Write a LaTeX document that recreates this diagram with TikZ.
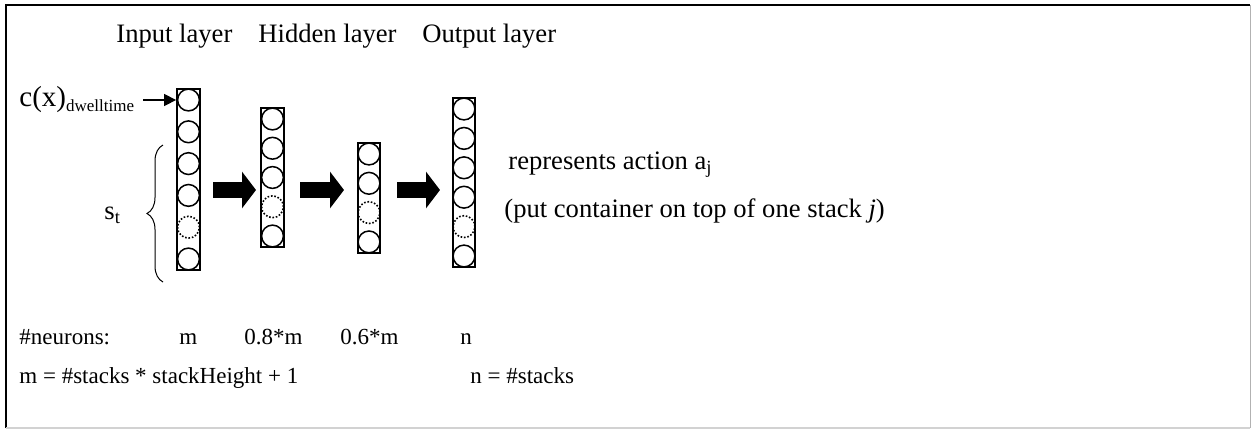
\documentclass[tikz,border=0pt]{standalone}
\usepackage{fontspec}
\setmainfont{Liberation Serif}
\usetikzlibrary{arrows.meta,decorations.pathreplacing}
\begin{document}
\begin{tikzpicture}[x=0.5pt,y=-0.5pt,
  lbl/.style={anchor=base west, inner sep=0pt, font=\fontsize{13.3}{16}\selectfont},
  low/.style={anchor=base west, inner sep=0pt, font=\fontsize{11.5}{14}\selectfont},
  layerbox/.style={draw, line width=0.9pt, inner sep=0pt, rectangle},
  neuron/.style={circle, draw, line width=0.75pt, minimum size=10.9pt, inner sep=0pt},
  dotneuron/.style={neuron, line width=0.8pt, dash pattern=on 0.8pt off 0.9pt},
  blockarrow/.style={line width=8pt, -{Triangle[length=7pt,width=18pt]}},
  feed/.style={line width=0.65pt, -{Triangle[length=6pt,width=6pt]}},
  bracestyle/.style={line width=0.5pt, decorate, decoration={brace, amplitude=8pt}}
]
\useasboundingbox (0,0) rectangle (1252,430);
% frame
\draw[line width=1pt] (6,428) -- (6,5) -- (1250,5);
\draw[gray!60, line width=0.5pt] (1250,5) -- (1250,428);
\draw[gray!35, line width=0.6pt] (1250,428) -- (6,428);

% layer boxes
\node[layerbox, minimum width=11.5pt, minimum height=90.5pt] (inbox) at (188.5,179.5) {};
\node[layerbox, minimum width=11.5pt, minimum height=69.5pt] (habox) at (272.5,177.5) {};
\node[layerbox, minimum width=11pt, minimum height=55pt] (hbbox) at (369,198) {};
\node[layerbox, minimum width=11pt, minimum height=84.5pt] (outbox) at (464,182.5) {};

% neurons
\foreach \i/\st in {1/neuron,2/neuron,3/neuron,4/neuron,5/dotneuron,6/neuron}
  \node[\st] (in\i) at (188.5,{100+31.8*(\i-1)}) {};
\foreach \i/\st in {1/neuron,2/neuron,3/neuron,4/dotneuron,5/neuron}
  \node[\st] (ha\i) at (272.5,{119+29.25*(\i-1)}) {};
\foreach \i/\st in {1/neuron,2/neuron,3/dotneuron,4/neuron}
  \node[\st] (hb\i) at (369,{154+29.3*(\i-1)}) {};
\foreach \i/\st in {1/neuron,2/neuron,3/neuron,4/neuron,5/dotneuron,6/neuron}
  \node[\st] (out\i) at (464,{109+29.4*(\i-1)}) {};

% block arrows
\coordinate (a1s) at (213,190);
\coordinate (a1e) at (256,190);
\coordinate (a2s) at (300,190);
\coordinate (a2e) at (344,190);
\coordinate (a3s) at (397,190);
\coordinate (a3e) at (440,190);
\draw[blockarrow] (a1s) -- (a1e);
\draw[blockarrow] (a2s) -- (a2e);
\draw[blockarrow] (a3s) -- (a3e);

% headings
\node[lbl] (inlab) at (116,42) {Input layer};
\node[lbl] (hidlab) at (258,42) {Hidden layer};
\node[lbl] (outlab) at (422,42) {Output layer};

% c(x) input
\node[anchor=base west, inner sep=0pt] (cx) at (19,106)
  {\fontsize{14.5}{17}\selectfont c(x)\raisebox{-2.5pt}{\fontsize{8.5}{10}\selectfont dwelltime}};
\coordinate (cxs) at (143,100);
\draw[feed] (cxs) -- (inbox.west |- in1);

% s_t with brace
\node[lbl] (st) at (104,219) {s\textsubscript{t}};
\coordinate (brb) at (163,282);
\coordinate (brt) at (163,145);
\draw[bracestyle] (brb) -- (brt);

% output description
\node[lbl] (act) at (508,169) {represents action a\textsubscript{j}};
\node[lbl] (put) at (504,217) {(put container on top of one stack \textit{j})};

% bottom rows
\node[low] (neu) at (19,344) {\#neurons:};
\node[low] (nm) at (179,344) {m};
\node[low] (n08) at (244,344) {0.8*m};
\node[low] (n06) at (340,344) {0.6*m};
\node[low] (nn) at (460,344) {n};
\node[low] (mdef) at (19,383) {m = \#stacks * stackHeight + 1};
\node[low] (ndef) at (470,383) {n = \#stacks};
\end{tikzpicture}
\end{document}
